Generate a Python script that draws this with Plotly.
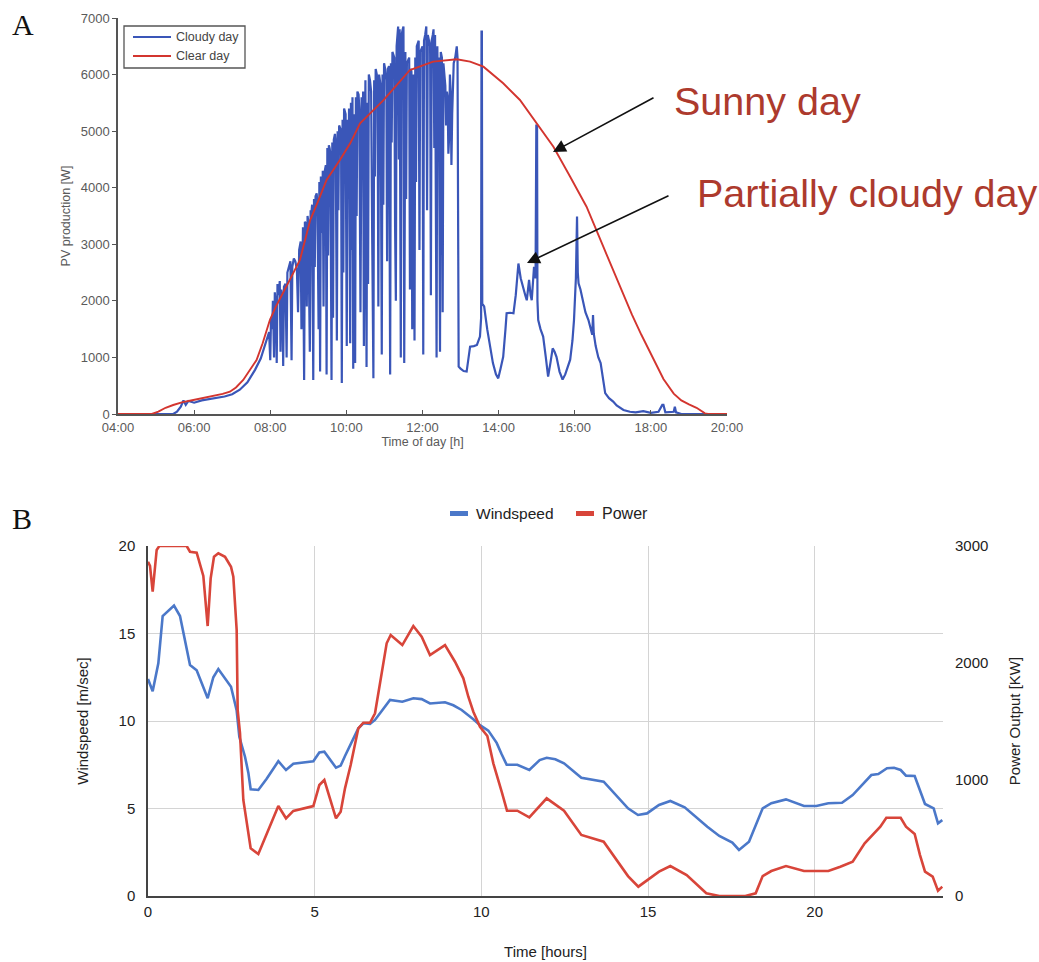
import plotly.graph_objects as go

# ---------------- Panel A data (PV production) ----------------
A_TICK_VALS = [4, 6, 8, 10, 12, 14, 16, 18, 20]
A_TICK_LABELS = ["04:00", "06:00", "08:00", "10:00", "12:00", "14:00", "16:00", "18:00", "20:00"]
A_Y_TICKS = [0, 1000, 2000, 3000, 4000, 5000, 6000, 7000]
A_SERIES = ["Cloudy day", "Clear day"]

CLEAR_T = [4.00, 4.89, 5.06, 5.25, 5.45, 5.70, 5.98, 6.25, 6.50, 6.75, 6.94, 7.10, 7.29, 7.45,
           7.64, 7.80, 7.99, 8.15, 8.34, 8.55, 8.78, 9.05, 9.25, 9.48, 9.83, 10.10, 10.36, 10.97,
           11.67, 12.28, 12.90, 13.25, 13.60, 14.12, 14.56, 15.00, 15.44, 15.88, 16.31, 16.75,
           17.00, 17.25, 17.50, 17.75, 18.00, 18.33, 18.60, 18.80, 19.00, 19.20, 19.42, 19.50, 20.00]
CLEAR_W = [0, 0, 41, 110, 159, 210, 247, 285, 318, 355, 394, 470, 601, 760,
           955, 1250, 1662, 1900, 2134, 2420, 2722, 3429, 3750, 4137, 4490, 4785, 5139, 5545,
           6081, 6228, 6270, 6228, 6140, 5846, 5551, 5139, 4725, 4195, 3665, 2957,
           2560, 2150, 1760, 1400, 1060, 620, 360, 240, 170, 110, 12, 0, 0]

# cloudy day readings: (time of day [h], PV production [W])
CLOUDY_DAY = [
    (4.00, 0), (5.45, 0), (5.55, 40), (5.65, 130), (5.72, 240), (5.78, 160), (5.85, 230),
    (6.00, 200), (6.20, 240), (6.40, 260), (6.60, 280), (6.80, 310), (7.00, 350), (7.20, 430),
    (7.40, 560), (7.60, 780), (7.75, 980), (7.88, 1250), (7.97, 1450), (8.00, 950), (8.02, 1700),
    (8.05, 1500), (8.07, 2000), (8.10, 1000), (8.12, 2150), (8.15, 1900), (8.17, 900), (8.19, 2300),
    (8.22, 2100), (8.25, 2350), (8.27, 1100), (8.29, 2200), (8.32, 2000), (8.34, 850), (8.36, 2250),
    (8.40, 2300), (8.43, 1000), (8.45, 2500), (8.50, 2650), (8.53, 2700), (8.56, 950), (8.58, 2600),
    (8.62, 2750), (8.66, 2700), (8.70, 2550), (8.73, 1800), (8.76, 2900), (8.80, 3050), (8.82, 1500),
    (8.84, 3150), (8.86, 3300), (8.89, 600), (8.91, 3400), (8.94, 3350), (8.96, 1900), (8.98, 3500),
    (9.00, 3400), (9.02, 2200), (9.04, 1100), (9.06, 3600), (9.08, 3550), (9.10, 3700), (9.13, 600),
    (9.15, 3800), (9.17, 2600), (9.19, 3850), (9.22, 3900), (9.24, 3700), (9.27, 1500), (9.29, 4100),
    (9.31, 750), (9.33, 4200), (9.36, 3200), (9.38, 4300), (9.40, 1900), (9.42, 4250), (9.44, 4350),
    (9.46, 4400), (9.48, 700), (9.50, 4700), (9.52, 2800), (9.54, 4750), (9.56, 4700), (9.58, 4600),
    (9.61, 600), (9.63, 4800), (9.65, 1700), (9.67, 4850), (9.70, 4950), (9.72, 4800), (9.75, 1300),
    (9.77, 5000), (9.79, 3600), (9.81, 5100), (9.84, 5050), (9.86, 5000), (9.88, 550), (9.90, 5200),
    (9.92, 2500), (9.94, 5400), (9.96, 5350), (9.98, 5300), (10.01, 1200), (10.03, 5200),
    (10.05, 4100), (10.07, 5400), (10.10, 1250), (10.12, 5500), (10.14, 2900), (10.16, 5600),
    (10.18, 800), (10.20, 5300), (10.23, 900), (10.25, 5600), (10.27, 3500), (10.29, 5700),
    (10.32, 5650), (10.34, 5400), (10.37, 1800), (10.40, 5600), (10.42, 4400), (10.44, 5700),
    (10.46, 1200), (10.48, 5800), (10.50, 5900), (10.53, 830), (10.55, 5500), (10.57, 2300),
    (10.59, 6000), (10.62, 5900), (10.65, 5700), (10.68, 3000), (10.71, 630), (10.73, 5900),
    (10.75, 4200), (10.77, 6100), (10.80, 6000), (10.82, 5600), (10.84, 1900), (10.86, 6000),
    (10.88, 5900), (10.90, 5800), (10.93, 1050), (10.95, 6000), (10.97, 3700), (10.99, 6200),
    (11.02, 6100), (11.05, 5900), (11.07, 2700), (11.09, 6100), (11.12, 6150), (11.15, 700),
    (11.17, 6200), (11.19, 4800), (11.21, 6400), (11.24, 6350), (11.26, 6300), (11.28, 3300),
    (11.30, 2000), (11.32, 6500), (11.34, 6700), (11.36, 6850), (11.38, 4500), (11.40, 6800),
    (11.43, 1000), (11.45, 6700), (11.48, 6800), (11.50, 6850), (11.52, 900), (11.55, 6400),
    (11.57, 3800), (11.59, 6200), (11.62, 6250), (11.65, 6300), (11.67, 2200), (11.69, 6100),
    (11.71, 6050), (11.73, 1500), (11.76, 6000), (11.79, 1300), (11.81, 6300), (11.83, 4100),
    (11.85, 6500), (11.88, 6550), (11.90, 6600), (11.92, 2900), (11.94, 6400), (11.97, 6450),
    (12.00, 6500), (12.02, 1050), (12.04, 6600), (12.07, 6700), (12.10, 6850), (12.12, 3600),
    (12.14, 6700), (12.17, 6600), (12.20, 6500), (12.22, 2100), (12.24, 6600), (12.27, 6700),
    (12.29, 6800), (12.31, 4700), (12.33, 6700), (12.37, 1000), (12.39, 6500), (12.41, 5200),
    (12.43, 6300), (12.46, 1100), (12.48, 6400), (12.51, 6300), (12.53, 1800), (12.55, 6200),
    (12.58, 5900), (12.60, 5800), (12.62, 5100), (12.64, 5700), (12.66, 5600), (12.68, 4600),
    (12.70, 4900), (12.72, 6000), (12.74, 5700), (12.76, 4400), (12.78, 5300), (12.80, 6000),
    (12.82, 6200), (12.86, 6300), (12.88, 6400), (12.90, 6500), (12.92, 6300), (12.93, 1500),
    (12.95, 840), (13.00, 800), (13.08, 760), (13.16, 750), (13.22, 1000), (13.25, 1190),
    (13.35, 1200), (13.43, 1220), (13.51, 1370), (13.54, 1700), (13.55, 6760), (13.56, 6760),
    (13.57, 1950), (13.62, 1900), (13.70, 1500), (13.77, 1190), (13.85, 900), (13.93, 700),
    (13.99, 630), (14.05, 800), (14.12, 1010), (14.18, 1500), (14.21, 1780), (14.30, 1790),
    (14.39, 1780), (14.45, 2100), (14.52, 2660), (14.58, 2400), (14.65, 2190), (14.70, 2100),
    (14.74, 2010), (14.80, 2370), (14.84, 2100), (14.87, 2010), (14.93, 2600), (14.97, 2400),
    (14.99, 5100), (15.01, 5100), (15.02, 2000), (15.04, 1660), (15.10, 1500), (15.17, 1370),
    (15.24, 1000), (15.30, 660), (15.36, 900), (15.42, 1160), (15.47, 1100), (15.52, 1010),
    (15.60, 750), (15.68, 610), (15.75, 700), (15.82, 850), (15.88, 960), (15.94, 1300),
    (15.98, 1660), (16.03, 2400), (16.05, 3490), (16.06, 3490), (16.08, 2500), (16.10, 2310),
    (16.15, 2200), (16.22, 2010), (16.28, 1800), (16.36, 1660), (16.42, 1500), (16.46, 1400),
    (16.48, 1750), (16.50, 1420), (16.55, 1200), (16.62, 1000), (16.68, 900), (16.74, 600),
    (16.80, 370), (16.90, 280), (17.01, 220), (17.10, 150), (17.20, 100), (17.28, 70),
    (17.45, 40), (17.60, 30), (17.80, 50), (18.00, 20), (18.20, 40), (18.30, 160), (18.33, 160),
    (18.38, 30), (18.60, 40), (18.63, 130), (18.66, 30), (18.80, 0), (20.00, 0),
]
CLOUDY_T = [p[0] for p in CLOUDY_DAY]
CLOUDY_W = [p[1] for p in CLOUDY_DAY]

# ---------------- Panel B data (wind) ----------------
B_X_TICKS = [0, 5, 10, 15, 20]
B_Y_TICKS = [0, 5, 10, 15, 20]
B_Y2_TICKS = [0, 1000, 2000, 3000]
B_SERIES = ["Windspeed", "Power"]

WIND_T = [0.00, 0.14, 0.31, 0.44, 0.78, 0.96, 1.26, 1.46, 1.79, 1.96, 2.11, 2.49, 2.66, 2.74,
          2.91, 3.01, 3.08, 3.31, 3.56, 3.91, 4.14, 4.36, 4.96, 5.14, 5.29, 5.64, 5.78, 5.91,
          6.31, 6.46, 6.66, 6.81, 7.26, 7.63, 7.96, 8.21, 8.46, 8.91, 9.16, 9.41, 9.76, 9.97,
          10.21, 10.46, 10.61, 10.76, 11.08, 11.44, 11.75, 11.96, 12.22, 12.48, 13.00, 13.67,
          14.40, 14.70, 14.97, 15.33, 15.67, 16.10, 16.78, 17.14, 17.53, 17.73, 18.03, 18.44,
          18.70, 19.14, 19.68, 20.05, 20.41, 20.82, 21.14, 21.70, 21.91, 22.17, 22.38, 22.58,
          22.74, 23.00, 23.31, 23.57, 23.70, 23.83]
WINDSPEED = [12.4, 11.7, 13.3, 16.0, 16.6, 16.0, 13.2, 12.9, 11.3, 12.5, 12.97, 11.96, 10.6, 9.1,
             7.96, 7.05, 6.1, 6.06, 6.7, 7.7, 7.2, 7.56, 7.7, 8.2, 8.25, 7.33, 7.45, 8.0,
             9.58, 9.87, 9.83, 10.06, 11.2, 11.1, 11.3, 11.25, 11.0, 11.07, 10.9, 10.63, 10.1, 9.75,
             9.45, 8.75, 8.1, 7.5, 7.5, 7.2, 7.77, 7.9, 7.81, 7.58, 6.76, 6.53,
             5.01, 4.63, 4.72, 5.2, 5.43, 5.07, 3.96, 3.43, 3.05, 2.63, 3.1, 5.01,
             5.3, 5.52, 5.14, 5.14, 5.3, 5.33, 5.77, 6.91, 6.97, 7.3, 7.33, 7.2,
             6.88, 6.86, 5.26, 5.01, 4.15, 4.34]

POWER_T = [0.00, 0.06, 0.14, 0.26, 0.34, 1.16, 1.26, 1.46, 1.66, 1.79, 1.88, 1.98, 2.11, 2.31,
           2.49, 2.56, 2.66, 2.69, 2.76, 2.86, 3.08, 3.31, 3.91, 4.14, 4.36, 4.96, 5.14, 5.29,
           5.64, 5.78, 5.91, 6.08, 6.31, 6.46, 6.66, 6.81, 7.16, 7.28, 7.63, 7.96, 8.21, 8.46,
           8.91, 9.21, 9.46, 9.61, 9.76, 9.96, 10.18, 10.36, 10.61, 10.77, 11.08, 11.44, 11.96,
           12.48, 13.00, 13.67, 14.40, 14.71, 15.33, 15.67, 16.16, 16.75, 17.14, 17.92, 18.23,
           18.44, 18.70, 19.14, 19.68, 20.41, 20.77, 21.14, 21.50, 21.97, 22.15, 22.58, 22.74,
           23.00, 23.16, 23.31, 23.54, 23.70, 23.83]
POWER = [2865, 2829, 2608, 2966, 3000, 3000, 2951, 2943, 2743, 2314, 2723, 2908, 2937, 2908,
         2822, 2737, 2280, 1594, 1397, 823, 409, 360, 771, 666, 729, 771, 951, 994,
         666, 723, 923, 1123, 1437, 1485, 1485, 1566, 2166, 2237, 2151, 2314, 2223, 2066,
         2151, 2008, 1866, 1708, 1580, 1451, 1371, 1137, 894, 731, 731, 674, 837,
         731, 523, 466, 171, 80, 209, 257, 180, 23, 0, 0, 23,
         171, 214, 257, 214, 214, 251, 294, 451, 594, 671, 671, 594,
         531, 351, 209, 166, 46, 80]

# ---------------- Layout helpers (pixel -> paper) ----------------
W, H = 1039, 962
def fx(p):
    return p / W
def fy(p):
    return 1 - p / H

A_BLUE = "#3a56b8"
A_RED = "#d3352f"
B_BLUE = "#4b78c9"
B_RED = "#d8453a"
SANS = "Liberation Sans, Arial, sans-serif"

fig = go.Figure()

# Panel A
fig.add_trace(go.Scatter(x=CLOUDY_T, y=CLOUDY_W, mode="lines", name=A_SERIES[0],
                         line=dict(color=A_BLUE, width=2.2), xaxis="x", yaxis="y", showlegend=False))
fig.add_trace(go.Scatter(x=CLEAR_T, y=CLEAR_W, mode="lines", name=A_SERIES[1],
                         line=dict(color=A_RED, width=1.9), xaxis="x", yaxis="y", showlegend=False))

# Panel B
fig.add_trace(go.Scatter(x=WIND_T, y=WINDSPEED, mode="lines", name=B_SERIES[0],
                         line=dict(color=B_BLUE, width=2.6), xaxis="x2", yaxis="y2", showlegend=False))
fig.add_trace(go.Scatter(x=POWER_T, y=POWER, mode="lines", name=B_SERIES[1],
                         line=dict(color=B_RED, width=2.6), xaxis="x2", yaxis="y3", showlegend=False))

axA_font = dict(family=SANS, size=13, color="#5a5a5a")
axB_font = dict(family=SANS, size=15, color="#222222")

fig.update_layout(
    template="none",
    width=W, height=H,
    margin=dict(l=0, r=0, t=0, b=0),
    paper_bgcolor="white", plot_bgcolor="white",
    font=dict(family=SANS, color="#222222"),
    showlegend=False,
    xaxis=dict(domain=[fx(118), fx(727)], anchor="y", range=[4, 20],
               tickmode="array", tickvals=A_TICK_VALS, ticktext=A_TICK_LABELS,
               ticks="inside", ticklen=4, tickcolor="#555555", tickwidth=1.2,
               showline=True, linecolor="#555555", linewidth=1.5, mirror=False,
               showgrid=False, zeroline=False, tickfont=axA_font, automargin=False,
               ticklabelstandoff=1,
               title=dict(text="Time of day [h]", font=dict(family=SANS, size=12.5, color="#5a5a5a"),
                          standoff=3)),
    yaxis=dict(domain=[fy(414), fy(18)], anchor="x", range=[0, 7000],
               tickmode="array", tickvals=A_Y_TICKS,
               ticks="outside", ticklen=4, tickcolor="#555555", tickwidth=1.2,
               showline=True, linecolor="#555555", linewidth=1.5,
               showgrid=False, zeroline=False, tickfont=axA_font, automargin=False,
               title=dict(text="PV production [W]", font=dict(family=SANS, size=12.5, color="#5a5a5a"),
                          standoff=7)),
    xaxis2=dict(domain=[fx(148), fx(943)], anchor="y2", range=[0, 23.85],
                tickmode="array", tickvals=B_X_TICKS,
                ticks="outside", ticklen=1, tickcolor="rgba(0,0,0,0)",
                showline=True, linecolor="#444444", linewidth=1.5,
                showgrid=True, gridcolor="#d4d4d4", gridwidth=1, zeroline=False,
                tickfont=axB_font, automargin=False,
                title=dict(text="Time [hours]", font=dict(family=SANS, size=15, color="#222222"),
                           standoff=28)),
    yaxis2=dict(domain=[fy(896), fy(546)], anchor="x2", range=[0, 20],
                tickmode="array", tickvals=B_Y_TICKS,
                ticks="outside", ticklen=8, tickcolor="rgba(0,0,0,0)",
                showline=True, linecolor="#444444", linewidth=1.5,
                showgrid=True, gridcolor="#d4d4d4", gridwidth=1, zeroline=False,
                tickfont=axB_font, automargin=False,
                title=dict(text="Windspeed [m/sec]", font=dict(family=SANS, size=15, color="#222222"),
                           standoff=26)),
    yaxis3=dict(overlaying="y2", anchor="x2", side="right", range=[0, 3000],
                tickmode="array", tickvals=B_Y2_TICKS,
                ticks="outside", ticklen=8, tickcolor="rgba(0,0,0,0)",
                showline=False, showgrid=False, zeroline=False,
                tickfont=axB_font, automargin=False,
                title=dict(text="Power Output [KW]", font=dict(family=SANS, size=15, color="#222222"),
                           standoff=22)),
)

# legend keys (drawn as a boxed key for A and a Google-style key for B)
shapes = [
    dict(type="rect", xref="paper", yref="paper", x0=fx(124), x1=fx(245), y0=fy(68), y1=fy(26),
         line=dict(color="#555555", width=1.3), fillcolor="white", layer="above"),
    dict(type="line", xref="paper", yref="paper", x0=fx(133), x1=fx(171), y0=fy(37), y1=fy(37),
         line=dict(color=A_BLUE, width=2.2), layer="above"),
    dict(type="line", xref="paper", yref="paper", x0=fx(133), x1=fx(171), y0=fy(56), y1=fy(56),
         line=dict(color=A_RED, width=2.2), layer="above"),
    dict(type="line", xref="paper", yref="paper", x0=fx(450), x1=fx(468), y0=fy(513.5), y1=fy(513.5),
         line=dict(color=B_BLUE, width=5), layer="above"),
    dict(type="line", xref="paper", yref="paper", x0=fx(576), x1=fx(594), y0=fy(513.5), y1=fy(513.5),
         line=dict(color=B_RED, width=5), layer="above"),
]

TEXT_RED = "#ad3a2d"
annotations = [
    dict(text=A_SERIES[0], x=fx(174), y=fy(37), xref="paper", yref="paper", xanchor="left",
         yanchor="middle", showarrow=False, font=dict(family=SANS, size=12.5, color="#444444")),
    dict(text=A_SERIES[1], x=fx(174), y=fy(56), xref="paper", yref="paper", xanchor="left",
         yanchor="middle", showarrow=False, font=dict(family=SANS, size=12.5, color="#444444")),
    dict(text=B_SERIES[0], x=fx(474), y=fy(513), xref="paper", yref="paper", xanchor="left",
         yanchor="middle", showarrow=False, font=dict(family=SANS, size=15.5, color="#222222")),
    dict(text=B_SERIES[1], x=fx(600), y=fy(513), xref="paper", yref="paper", xanchor="left",
         yanchor="middle", showarrow=False, font=dict(family=SANS, size=16, color="#222222")),
    dict(text="A", x=fx(10), y=fy(25), xref="paper", yref="paper", xanchor="left", yanchor="middle",
         showarrow=False, font=dict(family="Liberation Serif, Times New Roman, serif", size=30, color="#111111")),
    dict(text="B", x=fx(10), y=fy(518), xref="paper", yref="paper", xanchor="left", yanchor="middle",
         showarrow=False, font=dict(family="Liberation Serif, Times New Roman, serif", size=30, color="#111111")),
    dict(text="Sunny day", x=fx(672), y=fy(101), xref="paper", yref="paper", xanchor="left", yanchor="middle",
         showarrow=False, font=dict(family=SANS, size=39.5, color=TEXT_RED)),
    dict(text="Partially cloudy day", x=fx(695), y=fy(193), xref="paper", yref="paper", xanchor="left",
         yanchor="middle", showarrow=False, font=dict(family=SANS, size=39.5, color=TEXT_RED)),
    dict(text="", x=fx(553), y=fy(152), xref="paper", yref="paper", showarrow=True,
         ax=102, ay=-55, arrowhead=2, arrowsize=1.6, arrowwidth=1.6, arrowcolor="#111111"),
    dict(text="", x=fx(527), y=fy(263), xref="paper", yref="paper", showarrow=True,
         ax=143, ay=-68, arrowhead=2, arrowsize=1.6, arrowwidth=1.6, arrowcolor="#111111"),
]
fig.update_layout(shapes=shapes, annotations=annotations)

fig.write_html("out.html", config={"displayModeBar": False},
               post_script="document.body.style.margin='0';document.body.style.padding='0';")
